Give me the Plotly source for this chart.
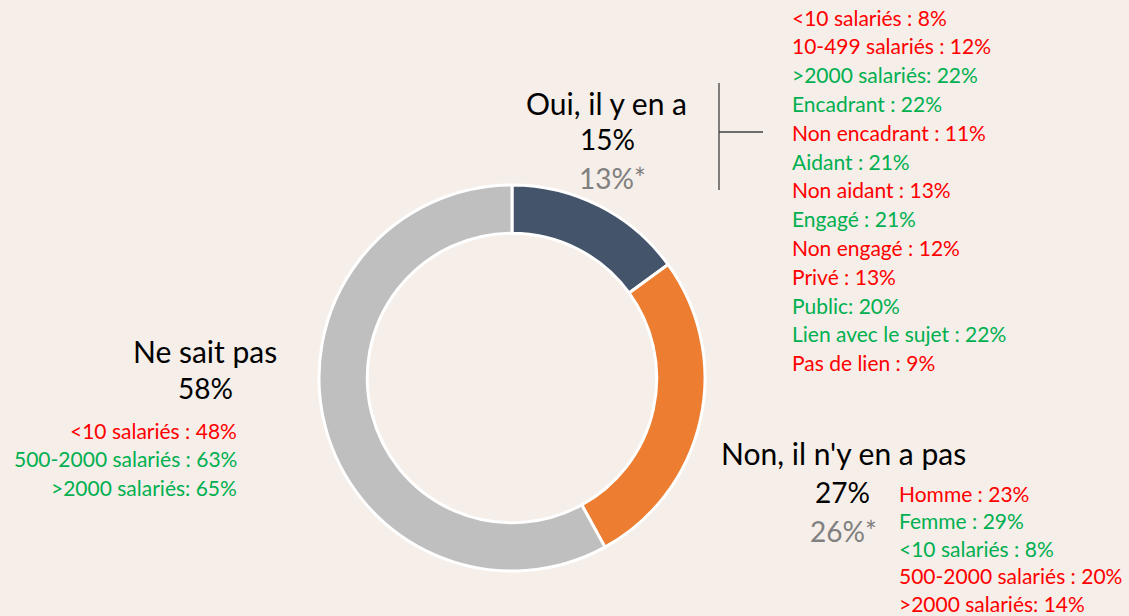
import plotly.graph_objects as go

W, H = 1129, 616

# Data
categories = ["Oui, il y en a", "Non, il n'y en a pas", "Ne sait pas"]
values = [15, 27, 58]
previous = ["13%*", "26%*", None]
slice_colors = ["#44546A", "#ED7D31", "#BFBFBF"]

oui_details = [
    ("<10 salariés : 8%", "red"),
    ("10-499 salariés : 12%", "red"),
    (">2000 salariés: 22%", "green"),
    ("Encadrant : 22%", "green"),
    ("Non encadrant : 11%", "red"),
    ("Aidant : 21%", "green"),
    ("Non aidant : 13%", "red"),
    ("Engagé : 21%", "green"),
    ("Non engagé : 12%", "red"),
    ("Privé : 13%", "red"),
    ("Public: 20%", "green"),
    ("Lien avec le sujet : 22%", "green"),
    ("Pas de lien : 9%", "red"),
]
non_details = [
    ("Homme : 23%", "red"),
    ("Femme : 29%", "green"),
    ("<10 salariés : 8%", "green"),
    ("500-2000 salariés : 20%", "red"),
    (">2000 salariés: 14%", "red"),
]
nsp_details = [
    ("<10 salariés : 48%", "red"),
    ("500-2000 salariés : 63%", "green"),
    (">2000 salariés: 65%", "green"),
]

COL = {"red": "#FF0000", "green": "#00B050"}
FONT = "Lato, Carlito, Calibri, sans-serif"
BG = "#F6EEE8"
LIST_SIZE = 21
LABEL_SIZE = 30
PCT_SIZE = 28

cx, cy, r = 512, 378, 193

def px(x):
    return x / W

def py(y):
    return 1 - y / H

fig = go.Figure(go.Pie(
    labels=categories, values=values, hole=0.75, sort=False,
    direction="clockwise", rotation=0,
    marker=dict(colors=slice_colors, line=dict(color="white", width=3)),
    textinfo="none", hoverinfo="none", showlegend=False,
    domain=dict(x=[px(cx - r), px(cx + r)], y=[py(cy + r), py(cy - r)]),
))

ann = []

def add(text, x, y, size, color="black", xanchor="center"):
    ann.append(dict(text=text, x=px(x), y=py(y), xref="paper", yref="paper",
                    xanchor=xanchor, yanchor="middle", showarrow=False,
                    font=dict(family=FONT, size=size, color=color)))

# Oui
add(categories[0], 606, 103, LABEL_SIZE)
add(f"{values[0]}%", 607, 139, PCT_SIZE)
add(previous[0], 612, 178, PCT_SIZE, "#808080")
for i, (t, c) in enumerate(oui_details):
    add(t, 790, 17 + i * 28.8, LIST_SIZE, COL[c], "left")

# Non
add(categories[1], 719, 453, LABEL_SIZE, xanchor="left")
add(f"{values[1]}%", 842, 492, PCT_SIZE)
add(previous[1], 843, 531, PCT_SIZE, "#808080")
for i, (t, c) in enumerate(non_details):
    add(t, 897, 493 + i * 27.6, LIST_SIZE, COL[c], "left")

# Ne sait pas
add(categories[2], 205, 351, LABEL_SIZE)
add(f"{values[2]}%", 205, 388, PCT_SIZE)
for i, (t, c) in enumerate(nsp_details):
    add(t, 239, 430 + i * 28.8, LIST_SIZE, COL[c], "right")

shapes = [
    dict(type="line", xref="paper", yref="paper", x0=px(719), x1=px(719),
         y0=py(83), y1=py(190), line=dict(color="#404040", width=1.3)),
    dict(type="line", xref="paper", yref="paper", x0=px(719), x1=px(763),
         y0=py(132), y1=py(132), line=dict(color="#404040", width=1.3)),
]

fig.update_layout(
    width=W, height=H, margin=dict(l=0, r=0, t=0, b=0),
    paper_bgcolor=BG, plot_bgcolor=BG,
    annotations=ann, shapes=shapes,
)

fig.write_html("out.html", config={"displayModeBar": False},
               post_script="document.body.style.margin='0';")
